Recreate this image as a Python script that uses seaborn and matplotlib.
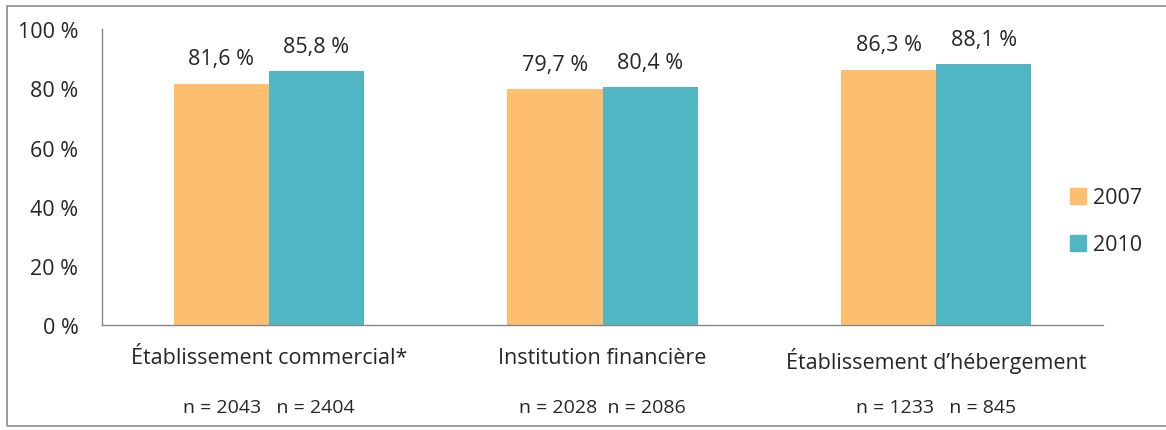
import pandas as pd
import matplotlib.pyplot as plt
import seaborn as sns
from matplotlib.patches import Rectangle
from matplotlib.lines import Line2D
import matplotlib.transforms as mtransforms

# data
categories = ['Établissement commercial*', 'Institution financière', "Établissement d’hébergement"]
years = ['2007', '2010']
values_2007 = [81.6, 79.7, 86.3]
values_2010 = [85.8, 80.4, 88.1]
n_2007 = [2043, 2028, 1233]
n_2010 = [2404, 2086, 845]
n_gaps = ['   ', '  ', '   ']
colors = ['#FDBE6F', '#51B6C4']

df = pd.DataFrame({
    'categorie': categories * 2,
    'annee': [years[0]] * 3 + [years[1]] * 3,
    'valeur': values_2007 + values_2010,
})

sns.set_style('white')
plt.rcParams['font.family'] = ['Open Sans', 'DejaVu Sans']
FS = 15.5

fig = plt.figure(figsize=(11.66, 4.31), dpi=100)
ax = fig.add_axes([0.0875, 0.2436, 0.8585, 0.6864])

sns.barplot(data=df, x='categorie', y='valeur', hue='annee', palette=colors,
            width=0.57, saturation=1, linewidth=0, ax=ax, legend=False)

ax.set_ylim(0, 100)
ax.set_xlim(-0.5, 2.5)
ax.set_yticks(range(0, 101, 20))
ax.set_yticklabels([f'{v} %' for v in range(0, 101, 20)], fontsize=FS)
ax.set_xticks([-0.5, 0.5, 1.5, 2.5])
ax.set_xticklabels([])
ax.set_xticks(range(3), minor=True)
ax.set_xticklabels(categories, minor=True, fontsize=FS)
ax.tick_params(axis='x', which='minor', length=0, pad=16)
ax.tick_params(axis='both', which='major', length=5, color='#868686', direction='out')
ax.tick_params(axis='y', pad=12)
ax.set_xlabel('')
ax.set_ylabel('')

for side in ['top', 'right']:
    ax.spines[side].set_visible(False)
for side in ['left', 'bottom']:
    ax.spines[side].set_color('#868686')
    ax.spines[side].set_linewidth(1)

# value labels above bars
for container in ax.containers:
    for bar in container:
        xc = bar.get_x() + bar.get_width() / 2
        h = bar.get_height()
        ax.annotate(f'{h:.1f} %'.replace('.', ','), (xc, h), xytext=(0, 14),
                    textcoords='offset points', ha='center', va='baseline', fontsize=FS)

# sample sizes under each category
trans = mtransforms.blended_transform_factory(ax.transData, ax.transAxes)
for i, (a, b, gap) in enumerate(zip(n_2007, n_2010, n_gaps)):
    ax.text(i, -0.294, f'n = {a}{gap}n = {b}', transform=trans, ha='center',
            va='baseline', fontsize=14)

# legend
handles = [Line2D([], [], marker='s', linestyle='', markersize=11, color=c) for c in colors]
fig.legend(handles, years, loc='center left', bbox_to_anchor=(0.899, 0.484),
           frameon=False, fontsize=FS, handletextpad=0.2, labelspacing=1.2,
           handlelength=1.0)

# outer frame
fig.add_artist(Rectangle((7 / 1166, 4 / 431), 1.02, 420 / 431, transform=fig.transFigure,
                         fill=False, edgecolor='#8c8c8c', linewidth=1.2))

fig.savefig('out.png', dpi=100)
